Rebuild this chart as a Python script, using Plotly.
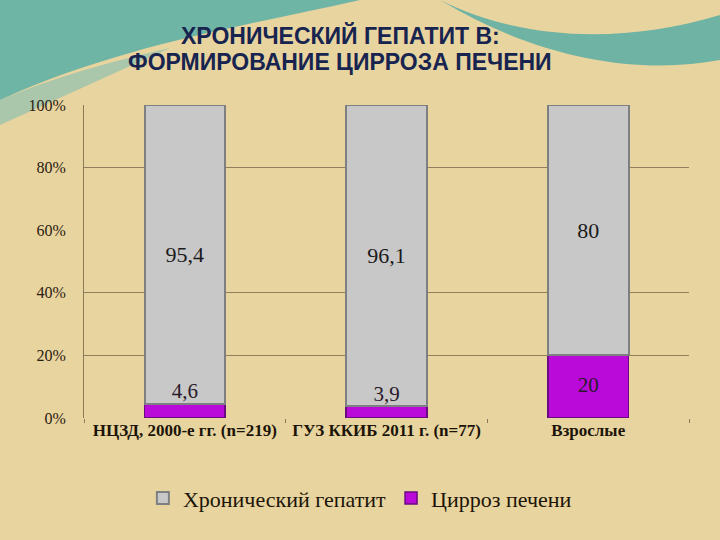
import plotly.graph_objects as go

categories = ["НЦЗД, 2000-е гг. (n=219)", "ГУЗ ККИБ 2011 г. (n=77)", "Взрослые"]
cirrhosis = [4.6, 3.9, 20]
hepatitis = [95.4, 96.1, 80]
series_names = ["Хронический гепатит", "Цирроз печени"]
tick_vals = [0, 20, 40, 60, 80, 100]
tick_text = ["0%", "20%", "40%", "60%", "80%", "100%"]
grid_vals = [20, 40, 80, 100]
title_lines = ["ХРОНИЧЕСКИЙ ГЕПАТИТ В:", "ФОРМИРОВАНИЕ ЦИРРОЗА ПЕЧЕНИ"]

def fmt(v):
    return ("%g" % v).replace(".", ",")

W, H = 720, 540
L, R, T, B = 84, 31, 105, 122
pw, ph = W - L - R, H - T - B

def px(x, y):
    return (x - L) / pw, (H - B - y) / ph

def path(points):
    s = ""
    for cmd, pts in points:
        s += cmd + " " + " ".join("%.4f,%.4f" % px(*p) for p in pts) + " "
    return s + "Z"

fig = go.Figure()

fig.add_trace(go.Bar(
    x=categories, y=cirrhosis, name=series_names[1],
    marker=dict(color="#b90ad9", line=dict(color="#6a0a80", width=1.5)),
    width=0.4, legendrank=2,
))
fig.add_trace(go.Bar(
    x=categories, y=hepatitis, name=series_names[0],
    marker=dict(color="#c8c8c8", line=dict(color="#7d7f80", width=2)),
    width=0.4, text=[fmt(v) for v in hepatitis], textposition="inside",
    insidetextanchor="middle",
    textfont=dict(family="Liberation Serif", size=22, color="#1a1a1a"),
    legendrank=1,
))
# labels of the cirrhosis segment
fig.add_trace(go.Scatter(
    x=categories,
    y=[v if v < 10 else v / 2 for v in cirrhosis],
    text=[fmt(v) for v in cirrhosis],
    mode="text",
    textposition=["top center" if v < 10 else "middle center" for v in cirrhosis],
    textfont=dict(family="Liberation Serif", size=21, color="#2a1a2a"),
    showlegend=False, hoverinfo="skip",
))
# hidden axis used only for gridlines
fig.add_trace(go.Scatter(x=categories, y=[None] * 3, yaxis="y2", showlegend=False,
                         hoverinfo="skip", mode="lines"))

shapes = [
    dict(type="path", xref="paper", yref="paper", layer="below", line=dict(width=0),
         fillcolor="rgba(80,172,168,0.8)",
         path=path([("M", [(0, 0)]), ("L", [(360, 0)]),
                    ("C", [(250, 25), (120, 45), (0, 100)])])),
    dict(type="path", xref="paper", yref="paper", layer="below", line=dict(width=0),
         fillcolor="rgba(70,168,165,0.75)",
         path=path([("M", [(440, 0)]), ("C", [(520, 40), (620, 45), (720, 15)]),
                    ("L", [(720, 60)]), ("C", [(640, 75), (540, 60), (440, 0)])])),
    dict(type="path", xref="paper", yref="paper", layer="below", line=dict(width=0),
         fillcolor="rgba(120,188,180,0.55)",
         path=path([("M", [(0, 100)]), ("C", [(60, 75), (110, 62), (170, 48)]),
                    ("L", [(0, 125)])])),
]

annotations = [
    dict(text="<b>%s</b>" % line, xref="paper", yref="paper",
         x=px(340, 0)[0], y=px(0, yc)[1], xanchor="center", yanchor="middle",
         showarrow=False, font=dict(family="Liberation Sans", size=23, color="#182450"))
    for line, yc in zip(title_lines, [35, 62])
]

fig.update_layout(
    width=W, height=H,
    margin=dict(l=L, r=R, t=T, b=B),
    paper_bgcolor="#e8d49f",
    plot_bgcolor="rgba(0,0,0,0)",
    barmode="stack",
    shapes=shapes,
    annotations=annotations,
    xaxis=dict(
        type="category", showgrid=False, showline=False, zeroline=False,
        ticks="outside", tickson="boundaries", ticklen=4, tickcolor="#8a7a5a",
        tickfont=dict(family="Liberation Serif", size=17, color="#1c1408"),
        tickprefix="<b>", ticksuffix="</b>",
    ),
    yaxis=dict(
        range=[0, 100], tickvals=tick_vals, ticktext=tick_text,
        showgrid=False, zeroline=False, showline=True, linecolor="#8a7a5a",
        linewidth=1, ticks="", ticklabelstandoff=14,
        tickfont=dict(family="Liberation Serif", size=16, color="#2a2010"),
    ),
    yaxis2=dict(
        range=[0, 100], overlaying="y", tickvals=grid_vals, showticklabels=False,
        showgrid=True, gridcolor="#8f7f5c", gridwidth=1, zeroline=False,
        showline=False, layer="below traces",
    ),
    legend=dict(
        orientation="h", x=0.456, xanchor="center", y=-0.256, yanchor="middle",
        font=dict(family="Liberation Serif", size=22, color="#1c1408"),
        traceorder="normal", bgcolor="rgba(0,0,0,0)", itemwidth=30,
    ),
    bargap=0.6,
)

fig.write_html("out.html", config={"displayModeBar": False},
               post_script="document.body.style.margin='0';document.body.style.background='#e8d49f';")
